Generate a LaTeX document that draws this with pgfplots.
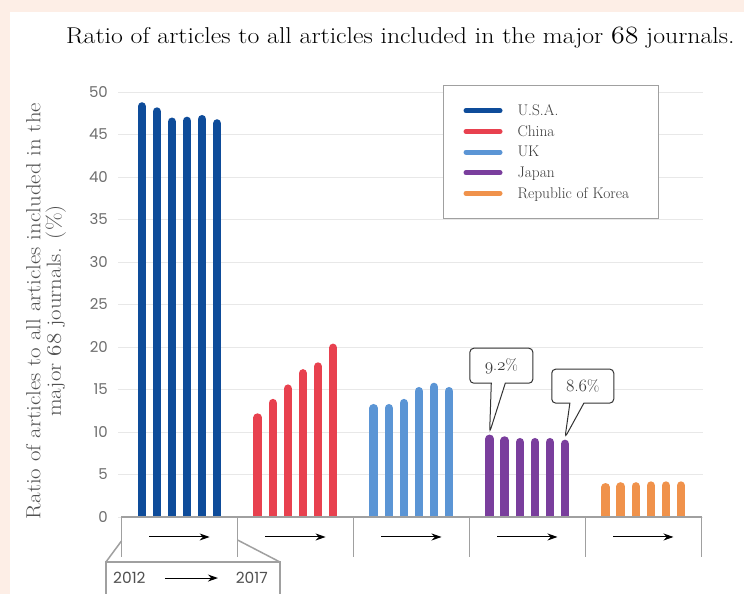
\documentclass[border=0pt]{standalone}
\usepackage{fontspec}
\usepackage{pgfplots}
\pgfplotsset{compat=1.18}
\usetikzlibrary{shapes.callouts, arrows.meta}
\newfontfamily\ticksans{Poppins}
\newcommand\osf[1]{{\fontencoding{OML}\fontfamily{lmm}\fontseries{m}\fontshape{it}\selectfont #1}}
\definecolor{usa}{RGB}{14,76,154}
\definecolor{china}{RGB}{232,65,79}
\definecolor{uk}{RGB}{91,149,213}
\definecolor{japan}{RGB}{122,62,157}
\definecolor{korea}{RGB}{240,146,75}
\definecolor{peach}{RGB}{253,238,230}
\definecolor{gridgray}{RGB}{232,232,232}
\definecolor{boxgray}{RGB}{160,160,160}
\definecolor{tickgray}{RGB}{110,110,110}
\definecolor{labelgray}{RGB}{80,80,80}
\definecolor{legtext}{RGB}{60,60,60}
\begin{document}
\begin{tikzpicture}[x=1bp,y=1bp]
\useasboundingbox (0bp,0bp) rectangle (744bp,-594bp);
\clip (0bp,0bp) rectangle (744bp,-594bp);
\fill[peach] (0bp,0bp) rectangle (744bp,-594bp);
\fill[white] (10bp,-12bp) rectangle (744bp,-594bp);
\node[anchor=base west, font=\fontsize{23}{26}\selectfont, inner sep=0] at (66bp,-43bp)
  {\scalebox{1.125}[1]{Ratio of articles to all articles included in the major \osf{68} journals.}};
\node[rotate=90, align=center, text=labelgray, font=\fontsize{20.5}{20.5}\selectfont] at (46bp,-311bp)
  {\scalebox{1.12}[1]{Ratio of articles to all articles included in the}\\ \scalebox{1.12}[1]{major \osf{68} journals. (\%)}};
\begin{axis}[
  at={(118bp,-517bp)}, anchor=south west, scale only axis,
  width=585bp, height=425bp,
  xmin=-0.53, xmax=4.515, ymin=0, ymax=50,
  clip=false,
  axis line style={draw=none},
  major tick length=0,
  xtick=\empty,
  ytick={0,5,...,50},
  ymajorgrids, grid style={gridgray, line width=1bp},
  /pgf/number format/assume math mode=true,
  yticklabel style={font=\ticksans\fontsize{15}{15}\selectfont, text=tickgray, anchor=east, inner xsep=0pt, xshift=-10bp},
  legend cell align=left,
  legend style={at={(0.5556,1.0165)}, anchor=north west, draw=boxgray, line width=1bp, fill=white,
    inner xsep=20bp, inner ysep=17bp, font=\fontsize{15.5}{17}\selectfont, text=legtext,
    row sep=4.5bp},
]
\addplot[ycomb, usa, line width=8.5bp, line cap=round, mark=none, forget plot] coordinates
  {(-0.325,48.3) (-0.195,47.7) (-0.065,46.5) (0.065,46.6) (0.195,46.8) (0.325,46.3)};
\addplot[ycomb, china, line width=8.5bp, line cap=round, mark=none, forget plot] coordinates
  {(0.675,11.7) (0.805,13.4) (0.935,15.1) (1.065,16.9) (1.195,17.7) (1.325,19.9)};
\addplot[ycomb, uk, line width=8.5bp, line cap=round, mark=none, forget plot] coordinates
  {(1.675,12.8) (1.805,12.8) (1.935,13.4) (2.065,14.8) (2.195,15.3) (2.325,14.8)};
\addplot[ycomb, japan, line width=8.5bp, line cap=round, mark=none, forget plot] coordinates
  {(2.675,9.2) (2.805,9.0) (2.935,8.8) (3.065,8.8) (3.195,8.8) (3.325,8.6)};
\addplot[ycomb, korea, line width=8.5bp, line cap=round, mark=none, forget plot] coordinates
  {(3.675,3.5) (3.805,3.6) (3.935,3.6) (4.065,3.7) (4.195,3.7) (4.325,3.7)};

\addlegendimage{legend image code/.code={\draw[usa, line width=5bp, line cap=round] (0bp,0bp) -- (34bp,0bp);}}
\addlegendentry{\hspace*{13bp}\makebox[119bp][l]{U.S.A.}}
\addlegendimage{legend image code/.code={\draw[china, line width=5bp, line cap=round] (0bp,0bp) -- (34bp,0bp);}}
\addlegendentry{\hspace*{13bp}\makebox[119bp][l]{China}}
\addlegendimage{legend image code/.code={\draw[uk, line width=5bp, line cap=round] (0bp,0bp) -- (34bp,0bp);}}
\addlegendentry{\hspace*{13bp}\makebox[119bp][l]{UK}}
\addlegendimage{legend image code/.code={\draw[japan, line width=5bp, line cap=round] (0bp,0bp) -- (34bp,0bp);}}
\addlegendentry{\hspace*{13bp}\makebox[119bp][l]{Japan}}
\addlegendimage{legend image code/.code={\draw[korea, line width=5bp, line cap=round] (0bp,0bp) -- (34bp,0bp);}}
\addlegendentry{\hspace*{13bp}\makebox[119bp][l]{Republic of Korea}}

% category strip
\fill[white] (axis cs:-0.5,0) rectangle (axis cs:4.5,-4.7);
\draw[boxgray, line width=1.5bp] (axis cs:-0.5,-4.7) -- (axis cs:-0.5,0) -- (axis cs:4.5,0) -- (axis cs:4.5,-4.7);
\draw[boxgray, line width=1.5bp] (axis cs:0.5,0) -- (axis cs:0.5,-4.7);
\draw[boxgray, line width=1.5bp] (axis cs:1.5,0) -- (axis cs:1.5,-4.7);
\draw[boxgray, line width=1.5bp] (axis cs:2.5,0) -- (axis cs:2.5,-4.7);
\draw[boxgray, line width=1.5bp] (axis cs:3.5,0) -- (axis cs:3.5,-4.7);
\draw[-{Stealth[length=10bp,width=7bp]}, line width=1bp] (axis cs:-0.26,-2.35) -- (axis cs:0.26,-2.35);
\draw[-{Stealth[length=10bp,width=7bp]}, line width=1bp] (axis cs:0.74,-2.35) -- (axis cs:1.26,-2.35);
\draw[-{Stealth[length=10bp,width=7bp]}, line width=1bp] (axis cs:1.74,-2.35) -- (axis cs:2.26,-2.35);
\draw[-{Stealth[length=10bp,width=7bp]}, line width=1bp] (axis cs:2.74,-2.35) -- (axis cs:3.26,-2.35);
\draw[-{Stealth[length=10bp,width=7bp]}, line width=1bp] (axis cs:3.74,-2.35) -- (axis cs:4.26,-2.35);

% year key
\draw[boxgray, line width=1.5bp] (axis cs:-0.5,-2.82) -- (axis cs:-0.634,-5.29);
\draw[boxgray, line width=1.5bp] (axis cs:0.5,-2.7) -- (axis cs:0.866,-5.29);
\draw[boxgray, line width=1.5bp, fill=white] (axis cs:-0.634,-9.5) rectangle (axis cs:0.866,-5.29);
\node[anchor=west, inner sep=0, text=labelgray, font=\ticksans\fontsize{15.5}{15.5}\selectfont] at (axis cs:-0.573,-7.18) {2012};
\node[anchor=east, inner sep=0, text=labelgray, font=\ticksans\fontsize{15.5}{15.5}\selectfont] at (axis cs:0.763,-7.18) {2017};
\draw[-{Stealth[length=10bp,width=7bp]}, line width=1bp] (axis cs:-0.125,-7.18) -- (axis cs:0.332,-7.18);

% callouts
\node[rectangle callout, draw=black!80, rounded corners=4bp, line width=1bp, fill=white,
  minimum width=63bp, minimum height=35bp, callout absolute pointer={(axis cs:2.675,9.95)},
  callout pointer width=14bp, font=\fontsize{16}{16}\selectfont, text=legtext] at (axis cs:2.776,17.8) {\osf{9}.\osf{2}\%};
\node[rectangle callout, draw=black!80, rounded corners=4bp, line width=1bp, fill=white,
  minimum width=62bp, minimum height=34bp, callout absolute pointer={(axis cs:3.325,9.35)},
  callout pointer width=14bp, font=\fontsize{16}{16}\selectfont, text=legtext] at (axis cs:3.478,15.4) {\osf{8}.\osf{6}\%};
\end{axis}
\end{tikzpicture}
\end{document}
